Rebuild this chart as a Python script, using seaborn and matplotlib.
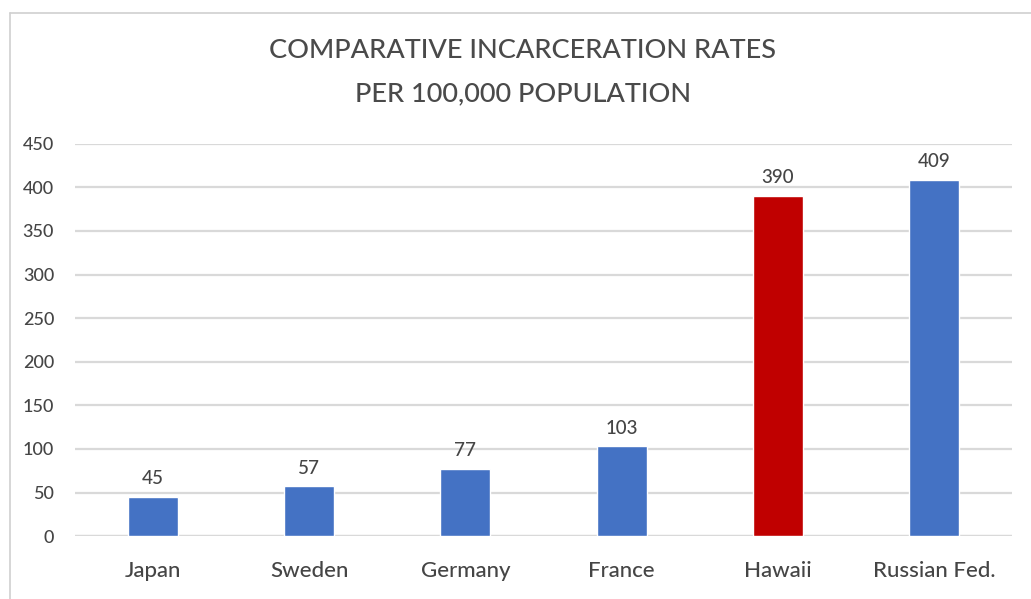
import matplotlib
matplotlib.use("Agg")
import matplotlib.pyplot as plt
import pandas as pd
import seaborn as sns
from matplotlib.lines import Line2D

countries = ["Japan", "Sweden", "Germany", "France", "Hawaii", "Russian Fed."]
rates = [45, 57, 77, 103, 390, 409]
bar_colors = ["#4472c4", "#4472c4", "#4472c4", "#4472c4", "#c00000", "#4472c4"]
y_ticks = [0, 50, 100, 150, 200, 250, 300, 350, 400, 450]

df = pd.DataFrame({"country": countries, "rate": rates})

sns.set_theme(style="white")
plt.rcParams["font.family"] = ["Lato", "DejaVu Sans"]

TXT = "#454545"

fig = plt.figure(figsize=(10.31, 5.99), dpi=100)
ax = fig.add_axes([0.0727, 0.105, 0.909, 0.655])

sns.barplot(
    data=df, x="country", y="rate", hue="country",
    palette=dict(zip(countries, bar_colors)), legend=False,
    width=0.32, saturation=1, ax=ax, zorder=3,
)

for c in ax.containers:
    ax.bar_label(c, fmt="%d", fontsize=13.5, padding=7, color=TXT,
                 fontweight="medium")

ax.set_ylim(0, 450)
ax.set_xlim(-0.5, len(countries) - 0.5)
ax.set_yticks(y_ticks)
ax.yaxis.grid(True, color="#d9d9d9", linewidth=1.6, zorder=0)
ax.set_axisbelow(True)
for s in ax.spines.values():
    s.set_visible(False)
ax.axhline(0, color="#d9d9d9", linewidth=1.6, zorder=1)
ax.tick_params(axis="y", labelsize=13, labelcolor=TXT, pad=15, length=0)
ax.tick_params(axis="x", labelsize=16, labelcolor=TXT, pad=18, length=0)
for lab in ax.get_xticklabels() + ax.get_yticklabels():
    lab.set_fontweight("medium")
ax.set_xlabel("")
ax.set_ylabel("")

fig.text(0.507, 0.915, "COMPARATIVE INCARCERATION RATES", ha="center", va="center",
         fontsize=19.5, color="#4a4a4a", fontweight="medium")
fig.text(0.507, 0.843, "PER 100,000 POPULATION", ha="center", va="center",
         fontsize=19.5, color="#4a4a4a", fontweight="medium")

# рамка листа из скриншота
fig.add_artist(Line2D([0.01, 1.0], [0.978, 0.978], color="#d0d0d0", linewidth=1.2))
fig.add_artist(Line2D([0.01, 0.01], [0.0, 0.978], color="#d0d0d0", linewidth=1.2))

fig.savefig("out.png", dpi=100)
